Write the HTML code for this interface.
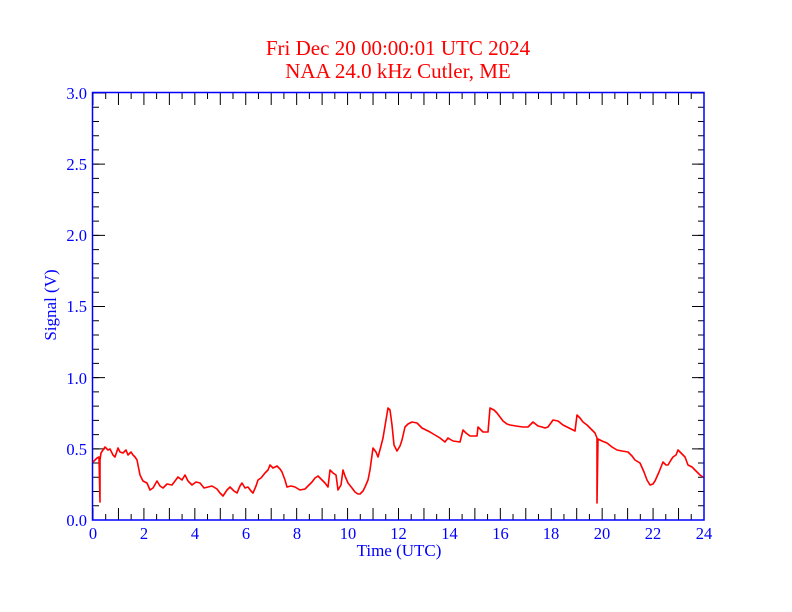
<!DOCTYPE html>
<html><head><meta charset="utf-8"><style>
body{margin:0;background:#fff}
svg{display:block}
text{font-family:"Liberation Serif",serif}
</style></head><body>
<svg width="792" height="612" viewBox="0 0 792 612" xmlns="http://www.w3.org/2000/svg">
<rect width="792" height="612" fill="#fff"/>
<text x="398" y="55" fill="#ff0000" font-size="21" text-anchor="middle">Fri Dec 20 00:00:01 UTC 2024</text>
<text x="398" y="78" fill="#ff0000" font-size="21" text-anchor="middle">NAA 24.0 kHz Cutler, ME</text>
<g stroke="#000" stroke-width="1">
<line x1="92.5" y1="514" x2="704" y2="514" stroke-width="12" stroke-dasharray="1 24.458"/>
<line x1="105.2" y1="517" x2="704" y2="517" stroke-width="6" stroke-dasharray="1 24.458"/>
<line x1="92.5" y1="99" x2="704" y2="99" stroke-width="12" stroke-dasharray="1 24.458"/>
<line x1="105.2" y1="96" x2="704" y2="96" stroke-width="6" stroke-dasharray="1 24.458"/>
<line x1="99" y1="92.5" x2="99" y2="521" stroke-width="12" stroke-dasharray="1 70.17"/>
<line x1="96" y1="92.5" x2="96" y2="521" stroke-width="6" stroke-dasharray="1 13.233"/>
<line x1="698" y1="92.5" x2="698" y2="521" stroke-width="12" stroke-dasharray="1 70.17"/>
<line x1="701" y1="92.5" x2="701" y2="521" stroke-width="6" stroke-dasharray="1 13.233"/>
</g>
<rect x="92.5" y="92.5" width="611.5" height="427.5" fill="none" stroke="#0000ff" stroke-width="1.5"/>
<g fill="#0000ff" font-size="16.5">
<g text-anchor="end">
<text x="87" y="526">0.0</text><text x="87" y="455">0.5</text><text x="87" y="384">1.0</text>
<text x="87" y="312">1.5</text><text x="87" y="241">2.0</text><text x="87" y="170">2.5</text><text x="87" y="99">3.0</text>
</g>
<g text-anchor="middle">
<text x="93" y="539">0</text><text x="144" y="539">2</text><text x="195" y="539">4</text><text x="246" y="539">6</text>
<text x="297" y="539">8</text><text x="348" y="539">10</text><text x="398.5" y="539">12</text><text x="449.5" y="539">14</text>
<text x="500.5" y="539">16</text><text x="551" y="539">18</text><text x="602" y="539">20</text><text x="653" y="539">22</text><text x="704" y="539">24</text>
<text x="399" y="556" font-size="17">Time (UTC)</text>
<text transform="translate(56,305) rotate(-90)" font-size="17">Signal (V)</text>
</g>
</g>
<polyline fill="none" stroke="#ff0000" stroke-width="1.6" stroke-linejoin="round" points="
93,462 97,458 99,457 100,502 100,460 101,453 105,447 108,450 110,449 113,455 115,457 118,448 120,452 123,453 126,450 128,455 131,452 133,455 135,457 137,460 140,475 143,481 147,483 150,490 153,488 157,481 160,486 163,488 167,484 172,485 175,481 178,477 182,480 185,475 188,481 192,485 196,482 200,483 204,488 208,487 212,486 217,489 220,493 223,496 227,490 230,487 234,491 237,493 240,486 242,483 245,488 248,487 251,491 253,493 256,486 258,480 261,478 265,473 268,470 270,465 273,468 277,466 280,469 282,472 285,480 287,487 291,486 295,487 300,490 305,489 309,485 312,482 315,478 318,476 322,480 325,483 328,487 330,470 333,473 336,475 338,490 341,485 343,470 345,476 348,483 352,488 355,492 358,494 360,494 363,491 365,487 368,480 370,470 373,448 376,452 378,457 381,446 383,438 386,420 388,408 390,410 392,425 394,445 397,451 400,446 402,440 405,427 408,424 412,422 417,423 422,428 426,430 430,432 435,435 440,438 445,442 448,438 453,441 460,442 463,430 466,433 470,436 477,436 478,427 483,432 488,432 490,408 494,410 497,413 500,417 503,421 507,424 510,425 516,426 523,427 528,427 533,422 538,426 542,427 545,428 548,427 553,420 558,421 563,425 567,427 571,429 575,431 577,415 580,418 583,422 587,425 590,428 595,433 597,438 597,503 598,439 602,441 607,443 612,447 617,450 622,451 628,452 632,456 635,460 640,463 644,472 647,480 650,485 653,484 655,481 659,472 663,462 666,465 668,465 671,460 673,457 676,455 678,450 682,454 685,457 688,465 692,467 697,472 700,475 703,477"/>
</svg>
</body></html>
